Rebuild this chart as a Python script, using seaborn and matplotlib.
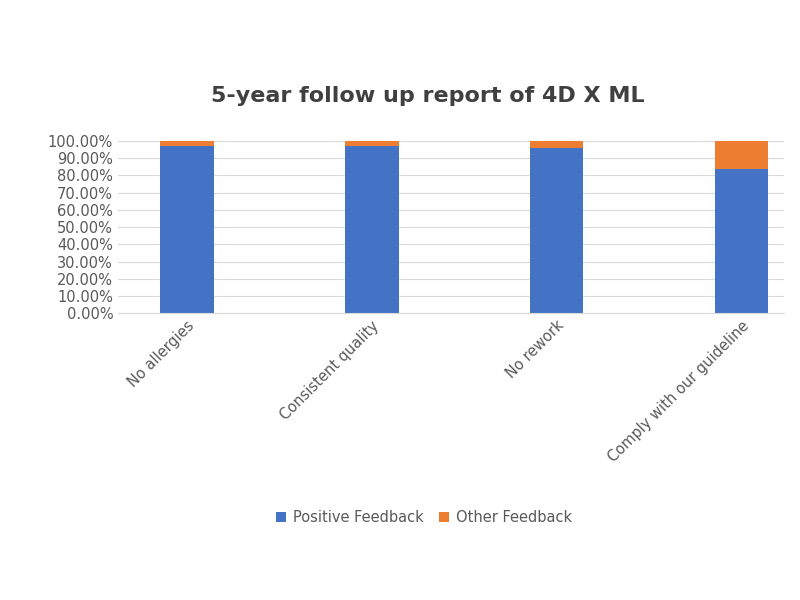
import matplotlib
matplotlib.use("Agg")
import matplotlib.pyplot as plt
import seaborn as sns
import pandas as pd
from matplotlib.ticker import FuncFormatter, MultipleLocator

categories = ["No allergies", "Consistent quality", "No rework", "Comply with our guideline"]
positive = [0.97, 0.97, 0.96, 0.84]
other = [0.03, 0.03, 0.04, 0.16]

df = pd.DataFrame({"cat": categories, "pos": positive, "oth": other})
df["total"] = df["pos"] + df["oth"]

fig = plt.figure(figsize=(8, 6), dpi=100)
fig.patch.set_facecolor("white")
ax = fig.add_axes([0.1475, 0.478, 0.8325, 0.287])

sns.barplot(data=df, x="cat", y="total", color="#ED7D31", width=0.29, ax=ax,
            label="Other Feedback", saturation=1)
sns.barplot(data=df, x="cat", y="pos", color="#4472C4", width=0.29, ax=ax,
            label="Positive Feedback", saturation=1)

ax.set_xlim(-0.373, 3.23)
ax.set_ylim(0, 1.0)
ax.yaxis.set_major_locator(MultipleLocator(0.1))
ax.yaxis.set_major_formatter(FuncFormatter(lambda v, p: f"{v*100:.2f}%"))
ax.grid(axis="y", color="#d9d9d9", linewidth=0.8)
ax.set_axisbelow(True)
for s in ["top", "right", "left"]:
    ax.spines[s].set_visible(False)
ax.spines["bottom"].set_color("#d9d9d9")
ax.tick_params(axis="both", length=0, colors="#595959", labelsize=10.5)
ax.set_xlabel("")
ax.set_ylabel("")
plt.setp(ax.get_xticklabels(), rotation=45, ha="right", rotation_mode="anchor")

fig.text(0.535, 0.84, "5-year follow up report of 4D X ML", fontsize=16,
         fontweight="bold", color="#404040", ha="center", va="center")

h, l = ax.get_legend_handles_labels()
order = [l.index("Positive Feedback"), l.index("Other Feedback")]
fig.legend([h[i] for i in order], [l[i] for i in order], loc="center",
           bbox_to_anchor=(0.53, 0.137), ncol=2, frameon=False, fontsize=10.5,
           handlelength=0.7, handleheight=0.7, labelcolor="#595959",
           columnspacing=1.0, handletextpad=0.5)
if ax.legend_:
    ax.legend_.remove()

fig.savefig("out.png", dpi=100)
